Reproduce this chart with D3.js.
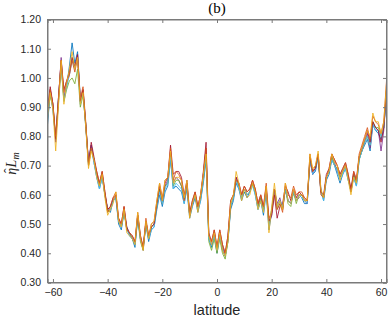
<!DOCTYPE html>
<html>
<head>
<meta charset="utf-8">
<script src="https://cdn.jsdelivr.net/npm/d3@7"></script>
<style>
  body { margin: 0; background: #fff; }
  svg { display: block; }
</style>
</head>
<body>
<div id="chart"></div>
<script>
// latitude grid (deg)
var latitude = [-62,-61,-60,-59,-58,-57,-56,-55,-54,-53,-52,-51,-50,-49,-48,-47,-46,-45,-44,-43,
  -42,-41,-40,-39,-38,-37,-36,-35,-34,-33,-32,-31,-30,-29,-28,-27,-26,-25,-24,-23,
  -22,-21,-20,-19,-18,-17,-16,-15,-14,-13,-12,-11,-10,-9,-8,-7,-6,-5,-4,-3,
  -2,-1,0,1,2,3,4,5,6,7,8,9,10,11,12,13,14,15,16,17,
  18,19,20,21,22,23,24,25,26,27,28,29,30,31,32,33,34,35,36,37,
  38,39,40,41,42,43,44,45,46,47,48,49,50,51,52,53,54,55,56,57,
  58,59,60,61,62]

var blueRun = [0.84,0.95,0.89,0.79,0.93,1.05,0.93,0.97,1.04,1.12,
  1.05,1.09,0.93,0.95,0.83,0.71,0.77,0.71,0.66,0.62,
  0.66,0.60,0.55,0.54,0.58,0.59,0.50,0.48,0.54,0.49,
  0.46,0.45,0.42,0.52,0.45,0.42,0.50,0.44,0.48,0.49,
  0.55,0.60,0.56,0.61,0.63,0.72,0.62,0.63,0.62,0.61,
  0.57,0.62,0.52,0.56,0.59,0.54,0.58,0.64,0.72,0.45,
  0.42,0.46,0.40,0.46,0.41,0.39,0.44,0.55,0.58,0.64,
  0.62,0.58,0.61,0.59,0.61,0.64,0.60,0.55,0.58,0.53,
  0.61,0.48,0.54,0.62,0.56,0.58,0.56,0.62,0.58,0.57,
  0.61,0.58,0.60,0.59,0.57,0.57,0.72,0.67,0.68,0.73,
  0.62,0.58,0.65,0.67,0.72,0.70,0.67,0.64,0.67,0.69,
  0.65,0.62,0.66,0.63,0.72,0.75,0.77,0.79,0.75,0.84,
  0.82,0.81,0.79,0.83,0.94]

var purpleRun = [0.86,0.96,0.91,0.78,0.92,1.07,0.93,0.98,1.01,1.07,
  1.03,1.08,0.92,0.96,0.84,0.71,0.77,0.72,0.67,0.63,
  0.67,0.60,0.55,0.56,0.58,0.60,0.51,0.49,0.55,0.48,
  0.47,0.45,0.43,0.53,0.45,0.41,0.51,0.45,0.49,0.50,
  0.57,0.62,0.57,0.63,0.65,0.75,0.64,0.66,0.65,0.63,
  0.58,0.64,0.53,0.57,0.60,0.55,0.59,0.67,0.76,0.46,
  0.43,0.47,0.41,0.47,0.42,0.39,0.45,0.56,0.59,0.66,
  0.63,0.59,0.62,0.60,0.61,0.64,0.61,0.56,0.59,0.55,
  0.62,0.50,0.53,0.62,0.57,0.59,0.55,0.62,0.58,0.57,
  0.61,0.58,0.59,0.60,0.58,0.57,0.72,0.67,0.69,0.74,
  0.61,0.59,0.66,0.68,0.73,0.71,0.68,0.66,0.68,0.70,
  0.66,0.61,0.67,0.64,0.73,0.75,0.78,0.81,0.76,0.85,
  0.83,0.82,0.75,0.82,0.96]

var greenRun = [0.86,0.94,0.90,0.80,0.91,1.04,0.92,0.96,0.99,1.00,
  0.98,1.03,0.90,0.94,0.84,0.70,0.76,0.72,0.67,0.63,
  0.67,0.60,0.54,0.55,0.58,0.59,0.51,0.49,0.54,0.48,
  0.47,0.45,0.43,0.52,0.44,0.41,0.50,0.45,0.49,0.50,
  0.56,0.62,0.57,0.63,0.64,0.74,0.63,0.65,0.65,0.63,
  0.58,0.63,0.53,0.57,0.60,0.55,0.59,0.65,0.74,0.44,
  0.41,0.45,0.40,0.45,0.40,0.38,0.44,0.56,0.59,0.65,
  0.63,0.59,0.62,0.60,0.61,0.64,0.61,0.56,0.59,0.55,
  0.62,0.50,0.55,0.62,0.55,0.57,0.55,0.62,0.57,0.56,
  0.61,0.57,0.60,0.60,0.58,0.58,0.72,0.68,0.69,0.73,
  0.61,0.59,0.66,0.68,0.73,0.70,0.69,0.66,0.68,0.70,
  0.66,0.61,0.67,0.64,0.72,0.75,0.78,0.80,0.77,0.85,
  0.83,0.83,0.80,0.83,0.96]

var cyanRun = [0.85,0.96,0.89,0.79,0.92,1.05,0.92,0.97,1.01,1.06,
  1.03,1.07,0.91,0.95,0.84,0.70,0.76,0.71,0.66,0.62,
  0.66,0.60,0.55,0.55,0.58,0.59,0.51,0.49,0.55,0.48,
  0.46,0.45,0.43,0.53,0.45,0.42,0.50,0.45,0.48,0.49,
  0.56,0.61,0.57,0.62,0.64,0.73,0.62,0.64,0.63,0.62,
  0.57,0.63,0.53,0.57,0.60,0.55,0.58,0.65,0.74,0.45,
  0.43,0.46,0.41,0.46,0.42,0.39,0.45,0.56,0.59,0.65,
  0.62,0.59,0.62,0.60,0.61,0.63,0.60,0.55,0.58,0.54,
  0.62,0.49,0.55,0.62,0.56,0.58,0.56,0.62,0.58,0.57,
  0.61,0.58,0.60,0.59,0.58,0.57,0.73,0.67,0.69,0.73,
  0.61,0.58,0.66,0.68,0.72,0.70,0.68,0.65,0.67,0.69,
  0.65,0.61,0.66,0.63,0.72,0.75,0.78,0.80,0.77,0.84,
  0.82,0.82,0.80,0.83,0.95]

var redRun = [0.90,0.97,0.91,0.79,0.93,1.06,0.96,0.99,1.02,1.07,
  1.04,1.08,0.92,0.96,0.84,0.71,0.78,0.73,0.68,0.64,
  0.68,0.61,0.55,0.56,0.59,0.60,0.52,0.50,0.56,0.49,
  0.47,0.46,0.44,0.53,0.46,0.42,0.51,0.46,0.49,0.50,
  0.57,0.63,0.58,0.64,0.66,0.77,0.67,0.68,0.68,0.66,
  0.60,0.65,0.54,0.58,0.61,0.56,0.60,0.68,0.78,0.47,
  0.44,0.48,0.42,0.48,0.43,0.40,0.46,0.58,0.60,0.66,
  0.64,0.60,0.63,0.61,0.62,0.65,0.62,0.57,0.60,0.56,
  0.63,0.51,0.53,0.60,0.52,0.56,0.57,0.63,0.61,0.58,
  0.62,0.59,0.61,0.60,0.59,0.58,0.73,0.68,0.69,0.74,
  0.61,0.60,0.67,0.69,0.74,0.72,0.70,0.67,0.69,0.71,
  0.67,0.62,0.68,0.65,0.73,0.76,0.79,0.82,0.78,0.85,
  0.83,0.82,0.78,0.83,0.96]

var orangeRun = [0.88,0.96,0.91,0.80,0.93,1.06,0.95,0.99,1.01,1.06,
  1.02,1.07,0.93,0.97,0.85,0.70,0.76,0.72,0.68,0.64,
  0.68,0.61,0.54,0.56,0.59,0.61,0.52,0.50,0.56,0.48,
  0.47,0.46,0.44,0.54,0.46,0.42,0.52,0.46,0.50,0.51,
  0.58,0.64,0.59,0.65,0.66,0.76,0.65,0.68,0.67,0.65,
  0.58,0.64,0.53,0.58,0.61,0.56,0.60,0.67,0.76,0.46,
  0.44,0.48,0.42,0.48,0.43,0.40,0.46,0.58,0.60,0.65,
  0.64,0.60,0.63,0.61,0.62,0.65,0.62,0.57,0.60,0.56,
  0.64,0.52,0.54,0.62,0.55,0.57,0.54,0.64,0.60,0.59,
  0.63,0.60,0.61,0.61,0.59,0.58,0.74,0.68,0.70,0.74,
  0.60,0.59,0.66,0.69,0.74,0.72,0.70,0.67,0.69,0.71,
  0.67,0.61,0.68,0.65,0.74,0.77,0.80,0.83,0.79,0.87,
  0.85,0.84,0.81,0.85,0.99]

var yellowRun = [0.87,0.95,0.89,0.75,0.90,1.06,0.91,0.98,1.03,1.09,
  1.03,1.07,0.91,0.95,0.83,0.69,0.75,0.72,0.66,0.63,
  0.67,0.59,0.53,0.55,0.57,0.61,0.51,0.49,0.55,0.47,
  0.46,0.45,0.43,0.54,0.45,0.41,0.51,0.45,0.50,0.51,
  0.58,0.64,0.58,0.65,0.66,0.75,0.64,0.66,0.66,0.65,
  0.59,0.65,0.52,0.57,0.60,0.54,0.60,0.67,0.74,0.46,
  0.43,0.47,0.41,0.47,0.41,0.39,0.44,0.57,0.60,0.68,
  0.64,0.58,0.62,0.59,0.60,0.64,0.61,0.55,0.58,0.54,
  0.63,0.47,0.56,0.64,0.56,0.58,0.55,0.64,0.58,0.57,
  0.62,0.58,0.60,0.60,0.58,0.58,0.74,0.69,0.70,0.75,
  0.62,0.59,0.66,0.68,0.74,0.71,0.70,0.65,0.68,0.70,
  0.65,0.60,0.66,0.64,0.73,0.76,0.79,0.82,0.80,0.88,
  0.85,0.85,0.81,0.85,0.98]

var runs = [blueRun, purpleRun, greenRun, cyanRun, redRun, orangeRun, yellowRun]
var runColors = ["#0072BD", "#7E2F8E", "#77AC30", "#4DBEEE", "#A2142F", "#D95319", "#EDB120"]
var xTicks = [-60, -40, -20, 0, 20, 40, 60]
var yTicks = [0.30, 0.40, 0.50, 0.60, 0.70, 0.80, 0.90, 1.00, 1.10, 1.20]

var W = 388, H = 319
var box = {left: 47.5, right: 386.5, top: 19.5, bottom: 282.5}
var axisGrey = "#7a7a7a", textGrey = "#262626"

var svg = d3.select("#chart").append("svg")
    .attr("width", W)
    .attr("height", H)

var xScale = d3.scaleLinear().domain([-62, 62]).range([box.left, box.right])
var yScale = d3.scaleLinear().domain([0.3, 1.2]).range([box.bottom, box.top])

// data lines
var line = d3.line()
    .x((d, i) => xScale(latitude[i]))
    .y(d => yScale(d))

svg.append("g").attr("class", "runs")
    .selectAll("path")
    .data(runs)
    .join("path")
    .attr("d", line)
    .attr("fill", "none")
    .attr("stroke", (d, i) => runColors[i])
    .attr("stroke-width", 0.85)
    .attr("stroke-linejoin", "round")

// axes, ticks pointing inward, box on all sides
var xAxis = d3.axisBottom(xScale).tickValues(xTicks).tickSize(-3.5).tickPadding(6).tickFormat(d3.format("d"))
var yAxis = d3.axisLeft(yScale).tickValues(yTicks).tickSize(-3.5).tickPadding(6.5).tickFormat(d3.format(".2f"))

svg.append("g")
    .attr("transform", `translate(0,${box.bottom})`)
    .call(xAxis)
svg.append("g")
    .attr("transform", `translate(${box.left},0)`)
    .call(yAxis)
svg.append("g")
    .attr("transform", `translate(0,${box.top})`)
    .call(d3.axisTop(xScale).tickValues(xTicks).tickSize(-3.5).tickFormat(""))
svg.append("g")
    .attr("transform", `translate(${box.right},0)`)
    .call(d3.axisRight(yScale).tickValues(yTicks).tickSize(-3.5).tickFormat(""))

svg.selectAll(".domain").attr("stroke", axisGrey)
svg.selectAll(".tick line").attr("stroke", axisGrey)
svg.selectAll(".tick text")
    .attr("fill", textGrey)
    .style("font-family", "'Liberation Sans', Arial, sans-serif")
    .style("font-size", "10.5px")

// plain box outline so the corners close
svg.append("rect")
    .attr("x", box.left).attr("y", box.top)
    .attr("width", box.right - box.left).attr("height", box.bottom - box.top)
    .attr("fill", "none").attr("stroke", axisGrey).attr("stroke-width", 1)

// title
svg.append("text")
    .attr("x", (box.left + box.right) / 2)
    .attr("y", 12.5)
    .attr("text-anchor", "middle")
    .style("font-family", "'Liberation Serif', 'Times New Roman', serif")
    .style("font-size", "15px")
    .attr("fill", "#000")
    .text("(b)")

// x label
svg.append("text")
    .attr("x", (box.left + box.right) / 2)
    .attr("y", 314.5)
    .attr("text-anchor", "middle")
    .style("font-family", "'Liberation Sans', Arial, sans-serif")
    .style("font-size", "14.5px")
    .attr("fill", textGrey)
    .text("latitude")

// y label: eta hat L_m (hat placed by hand over the eta)
var ylab = svg.append("text")
    .attr("transform", `translate(16,163.5) rotate(-90)`)
    .attr("text-anchor", "middle")
    .style("font-family", "'Liberation Serif', 'Times New Roman', serif")
    .style("font-size", "14px")
    .style("font-style", "italic")
    .attr("fill", textGrey)
ylab.append("tspan").text("\u03B7")
ylab.append("tspan").attr("dx", -5.2).attr("dy", -2).style("font-style", "normal").text("\u02C6")
ylab.append("tspan").attr("dx", 0.8).attr("dy", 2).text("L")
ylab.append("tspan").attr("dy", 3).style("font-size", "10px").text("m")
</script>
</body>
</html>
